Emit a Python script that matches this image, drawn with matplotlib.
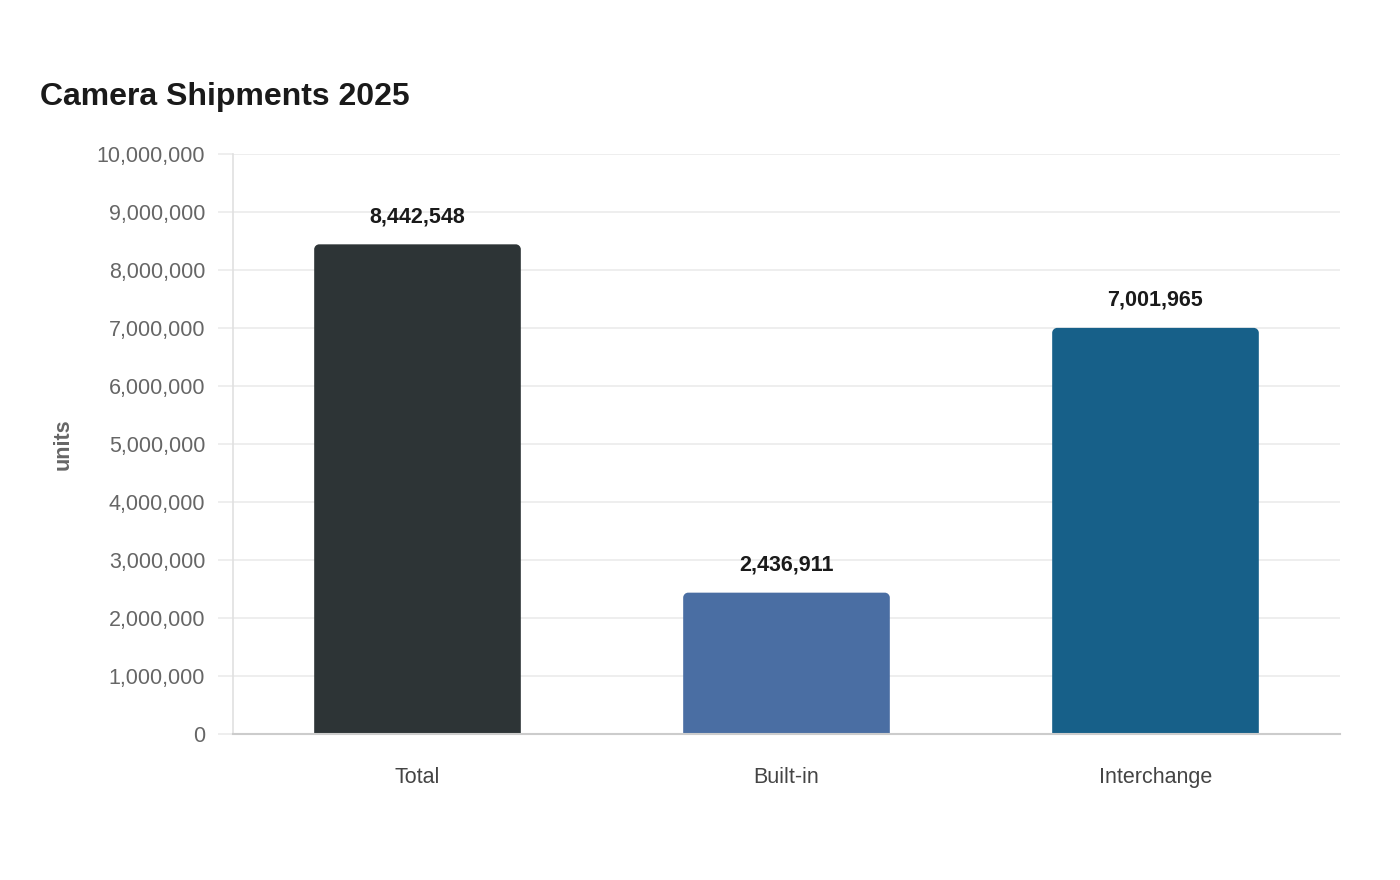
import matplotlib
matplotlib.use("Agg")
import matplotlib.pyplot as plt
from matplotlib.path import Path
from matplotlib.patches import PathPatch
from matplotlib.ticker import FuncFormatter, MultipleLocator

categories = ["Total", "Built-in", "Interchange"]
values = [8442548, 2436911, 7001965]
colors = ["#2d3436", "#4a6ea3", "#176089"]
title = "Camera Shipments 2025"
ylabel = "units"

plt.rcParams['font.family'] = ['Liberation Sans', 'DejaVu Sans']

fig = plt.figure(figsize=(14, 8.8), dpi=100)
ax = fig.add_axes([233/1400, 1-734/880, (1340-233)/1400, (734-154)/880])

ymax = 10_000_000
ax.set_xlim(-0.5, len(categories) - 0.5)
ax.set_ylim(0, ymax)

width = 0.56
ax_w_px = 1340 - 233
ax_h_px = 734 - 154
r_px = 5
rx = r_px * len(categories) / ax_w_px
ry = r_px * ymax / ax_h_px

for i, (v, c) in enumerate(zip(values, colors)):
    x0 = i - width / 2
    x1 = i + width / 2
    k = 0.45
    verts = [
        (x0, 0), (x1, 0), (x1, v - ry),
        (x1, v - ry * k), (x1 - rx * k, v), (x1 - rx, v),
        (x0 + rx, v),
        (x0 + rx * k, v), (x0, v - ry * k), (x0, v - ry),
        (x0, 0),
    ]
    codes = [Path.MOVETO, Path.LINETO, Path.LINETO,
             Path.CURVE4, Path.CURVE4, Path.CURVE4,
             Path.LINETO,
             Path.CURVE4, Path.CURVE4, Path.CURVE4,
             Path.CLOSEPOLY]
    patch = PathPatch(Path(verts, codes), facecolor=c, edgecolor='none', zorder=3)
    ax.add_patch(patch)
    ax.annotate(f"{v:,}", xy=(i, v), xytext=(0, 20), textcoords='offset points',
                ha='center', va='center', fontsize=15.5, fontweight='bold',
                color='#1a1a1a', zorder=4)

ax.set_xticks(range(len(categories)))
ax.set_xticklabels(categories)
ax.yaxis.set_major_locator(MultipleLocator(1_000_000))
ax.yaxis.set_major_formatter(FuncFormatter(lambda v, p: f"{int(v):,}"))

ax.grid(axis='y', color='#ebebeb', linewidth=1.2, zorder=0)
ax.set_axisbelow(True)

for s in ['top', 'right']:
    ax.spines[s].set_visible(False)
ax.spines['left'].set_color('#e0e0e0')
ax.spines['left'].set_linewidth(1.2)
ax.spines['bottom'].set_color('#cccccc')
ax.spines['bottom'].set_linewidth(1.5)
ax.spines['bottom'].set_zorder(5)

ax.tick_params(axis='y', length=11, color='#ebebeb', width=1.2, pad=9,
               labelsize=15.5, labelcolor='#666666')
ax.tick_params(axis='x', length=0, pad=24, labelsize=15.5, labelcolor='#444444')

ax.set_ylabel(ylabel, fontsize=15.5, fontweight='bold', color='#666666')
ax.yaxis.set_label_coords(-(233 - 74) / ax_w_px, 0.5)

fig.text(40/1400, 1 - 97/880, title, fontsize=23, fontweight='bold',
         color='#1a1a1a', ha='left', va='center')

fig.savefig("out.png", dpi=100, facecolor='white')
